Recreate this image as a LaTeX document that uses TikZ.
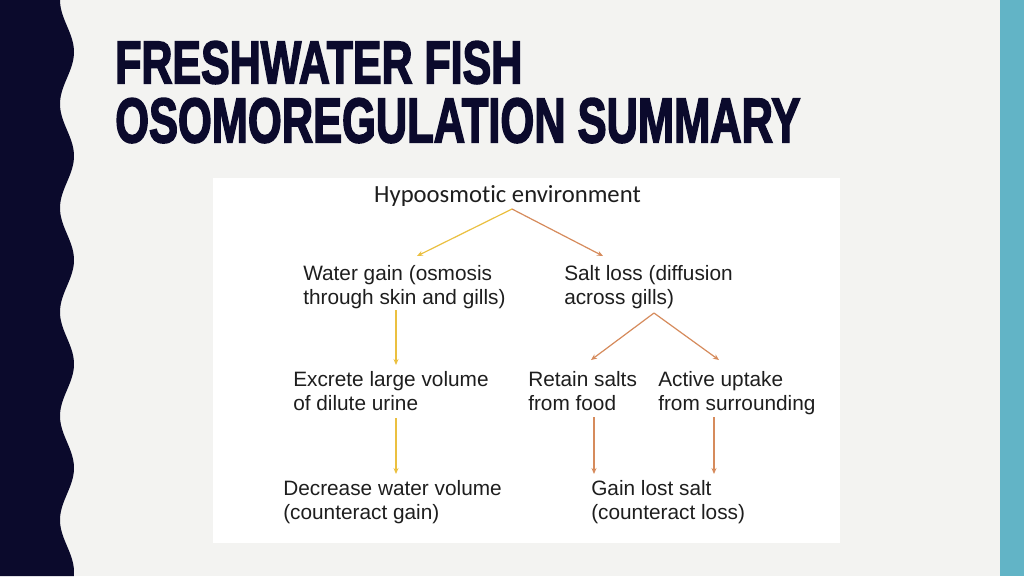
\documentclass[tikz,border=0pt]{standalone}
\usepackage{fontspec}
\usepackage{graphicx}
\setmainfont{Liberation Sans}
\newfontfamily\hypofont{Carlito}[Ligatures=NoCommon]
\newfontfamily\titlefont{Liberation Sans}[BoldFeatures={FakeBold=3}]
\usetikzlibrary{arrows.meta}
\newdimen\pxu \pxu=0.75pt
\definecolor{navy}{HTML}{0B0A2C}
\definecolor{paper}{HTML}{F3F3F1}
\definecolor{barteal}{HTML}{62B4C6}
\definecolor{wateryellow}{HTML}{EBC040}
\definecolor{saltbrown}{HTML}{D68B5C}
\definecolor{ink}{HTML}{1E1E1E}
\begin{document}
\begin{tikzpicture}[x=0.75pt, y=-0.75pt, >={Stealth[length=4.5pt,width=3.75pt]},
  txt/.style={font=\fontsize{15.6}{18}\selectfont, text=ink, align=left, inner sep=0pt, anchor=north west},
  ttl/.style={font=\titlefont\bfseries, text=navy, inner sep=0pt, anchor=north west},
  wline/.style={draw=wateryellow, line width=0.9pt, ->},
  sline/.style={draw=saltbrown, line width=0.9pt, ->}]
\useasboundingbox (0,0) rectangle (1024,576);
% slide background
\fill[paper] (0,0) rectangle (1024,576);
\fill[navy] (0,0) -- plot[domain=0:576, samples=200, variable=\t] ({67-7*cos(\t*3.4615)}, \t) -- (0,576) -- cycle;
\fill[barteal] (1000,0) rectangle (1024,576);
\fill[white] (213,178) rectangle (840,543);
% title
\node[ttl] (title1) at (115,41) {\resizebox{407\pxu}{42\pxu}{FRESHWATER FISH}};
\node[ttl] (title2) at (115,98) {\resizebox{685\pxu}{44\pxu}{OSOMOREGULATION SUMMARY}};
% chart
\node[font=\hypofont\fontsize{18.5}{22}\selectfont, text=ink, inner sep=0pt, anchor=base] (hypo) at (507.5,202) {Hypoosmotic environment};
\node[txt] (wgain) at (303,265) {Water gain (osmosis\\through skin and gills)};
\node[txt] (sloss) at (564,265) {Salt loss (diffusion\\across gills)};
\node[txt] (excrete) at (293,371) {Excrete large volume\\of dilute urine};
\node[txt] (retain) at (528,371) {Retain salts\\from food};
\node[txt] (uptake) at (658,371) {Active uptake\\from surrounding};
\node[txt] (decrease) at (283,480) {Decrease water volume\\(counteract gain)};
\node[txt] (gain) at (591,480) {Gain lost salt\\(counteract loss)};
\path[wline] ([shift={(4.5,7)}]hypo.base) -- ([shift={(114,-9)}]wgain.north west);
\path[sline] ([shift={(4.5,7)}]hypo.base) -- ([shift={(39,-9)}]sloss.north west);
\path[wline] ([shift={(93,45)}]wgain.north west) -- ([shift={(103,-6)}]excrete.north west);
\path[wline] ([shift={(103,47)}]excrete.north west) -- ([shift={(113,-6)}]decrease.north west);
\path[sline] ([shift={(90,48)}]sloss.north west) -- ([shift={(63,-11)}]retain.north west);
\path[sline] ([shift={(90,48)}]sloss.north west) -- ([shift={(61,-11)}]uptake.north west);
\path[sline] ([shift={(66,46)}]retain.north west) -- ([shift={(3,-6)}]gain.north west);
\path[sline] ([shift={(56,46)}]uptake.north west) -- ([shift={(123,-6)}]gain.north west);
\end{tikzpicture}
\end{document}
